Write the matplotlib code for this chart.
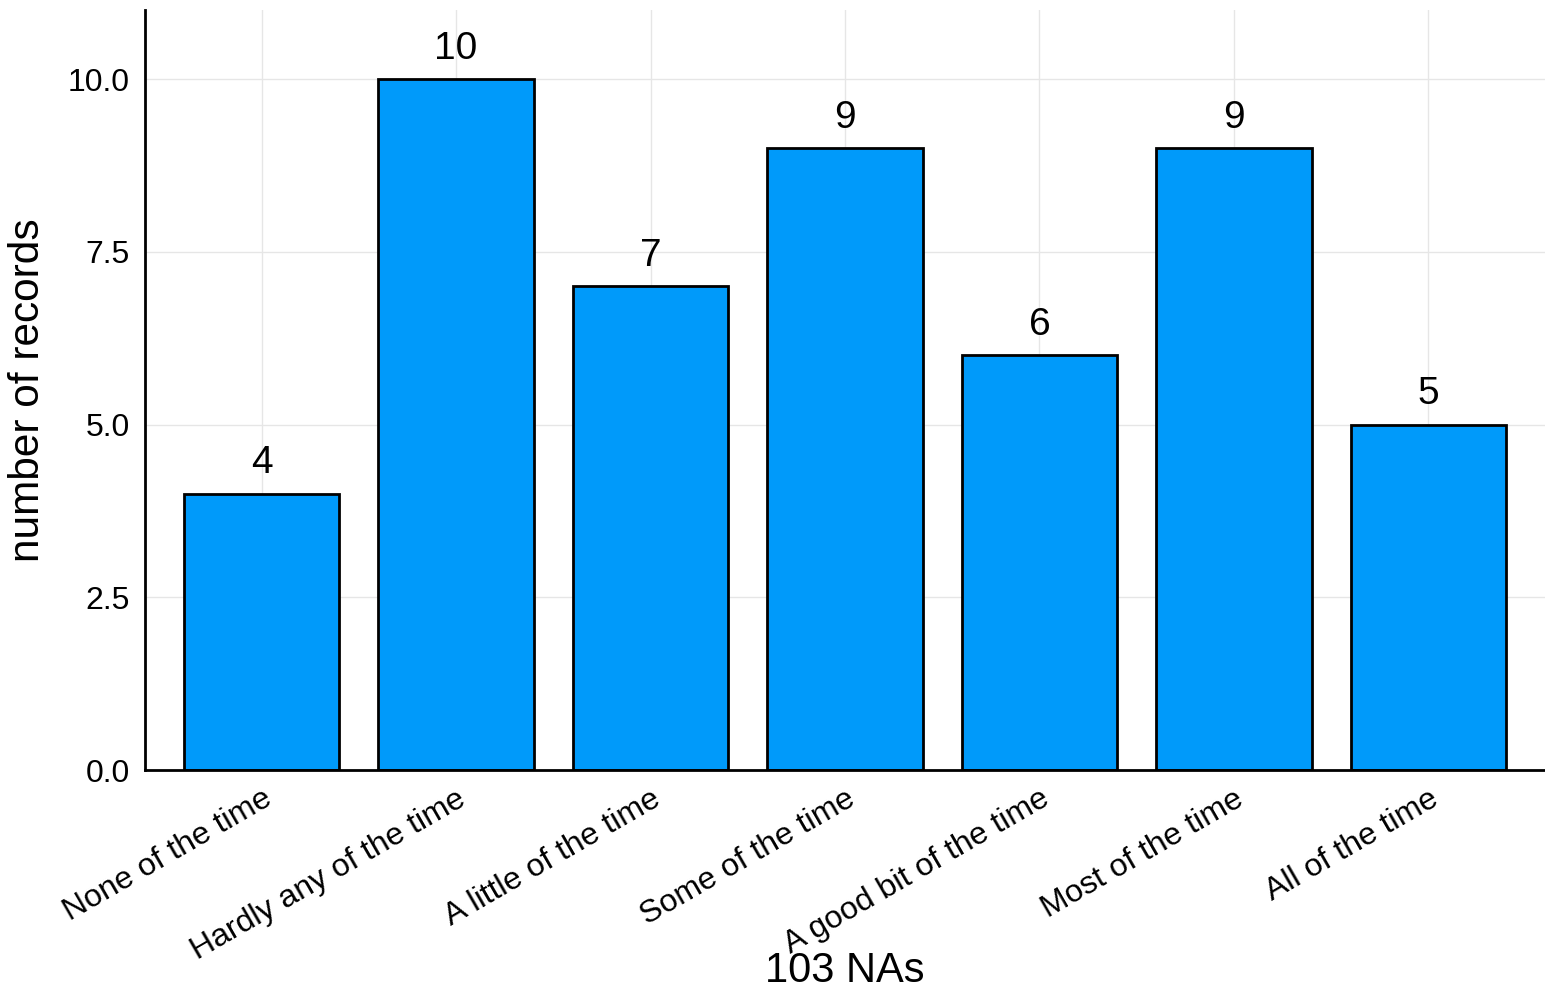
import matplotlib.pyplot as plt
import numpy as np

plt.rcParams['font.family'] = ['Liberation Sans', 'DejaVu Sans']

categories = ["None of the time", "Hardly any of the time", "A little of the time",
              "Some of the time", "A good bit of the time", "Most of the time",
              "All of the time"]
counts = [4, 10, 7, 9, 6, 9, 5]
yticks = [0.0, 2.5, 5.0, 7.5, 10.0]

fig = plt.figure(figsize=(15.45, 9.93), dpi=100)
ax = fig.add_axes([145 / 1545, 223 / 993, 1400 / 1545, 760 / 993])

x = np.arange(1, len(categories) + 1)
ax.bar(x, counts, width=0.8, color="#009AFA", edgecolor="black", linewidth=2, zorder=3)
for xi, c in zip(x, counts):
    ax.annotate(str(c), (xi, c), xytext=(0, 9), textcoords="offset points",
                ha="center", va="bottom", fontsize=28)

ax.set_xlim(0.4, 7.6)
ax.set_ylim(0, 11.0)
ax.set_xticks(x)
ax.set_xticklabels(categories, rotation=30, ha="right", va="top",
                   rotation_mode="anchor", fontsize=23)
ax.set_yticks(yticks)
ax.set_yticklabels([f"{v:.1f}" for v in yticks], fontsize=23)
ax.tick_params(axis="y", length=0, pad=11)
ax.tick_params(axis="x", length=0, pad=10)

ax.grid(True, color="#e6e6e6", linewidth=1, zorder=0)
for s in ["top", "right"]:
    ax.spines[s].set_visible(False)
for s in ["left", "bottom"]:
    ax.spines[s].set_linewidth(2)
    ax.spines[s].set_zorder(4)

ax.set_xlabel("103 NAs", fontsize=30)
ax.xaxis.set_label_coords(0.5, -0.265)
ax.xaxis.label.set_va("center")
ax.set_ylabel("number of records", fontsize=30.5)
ax.yaxis.set_label_coords(-0.0835, 0.5)
ax.yaxis.label.set_va("center")

fig.savefig("out.png", dpi=100)
